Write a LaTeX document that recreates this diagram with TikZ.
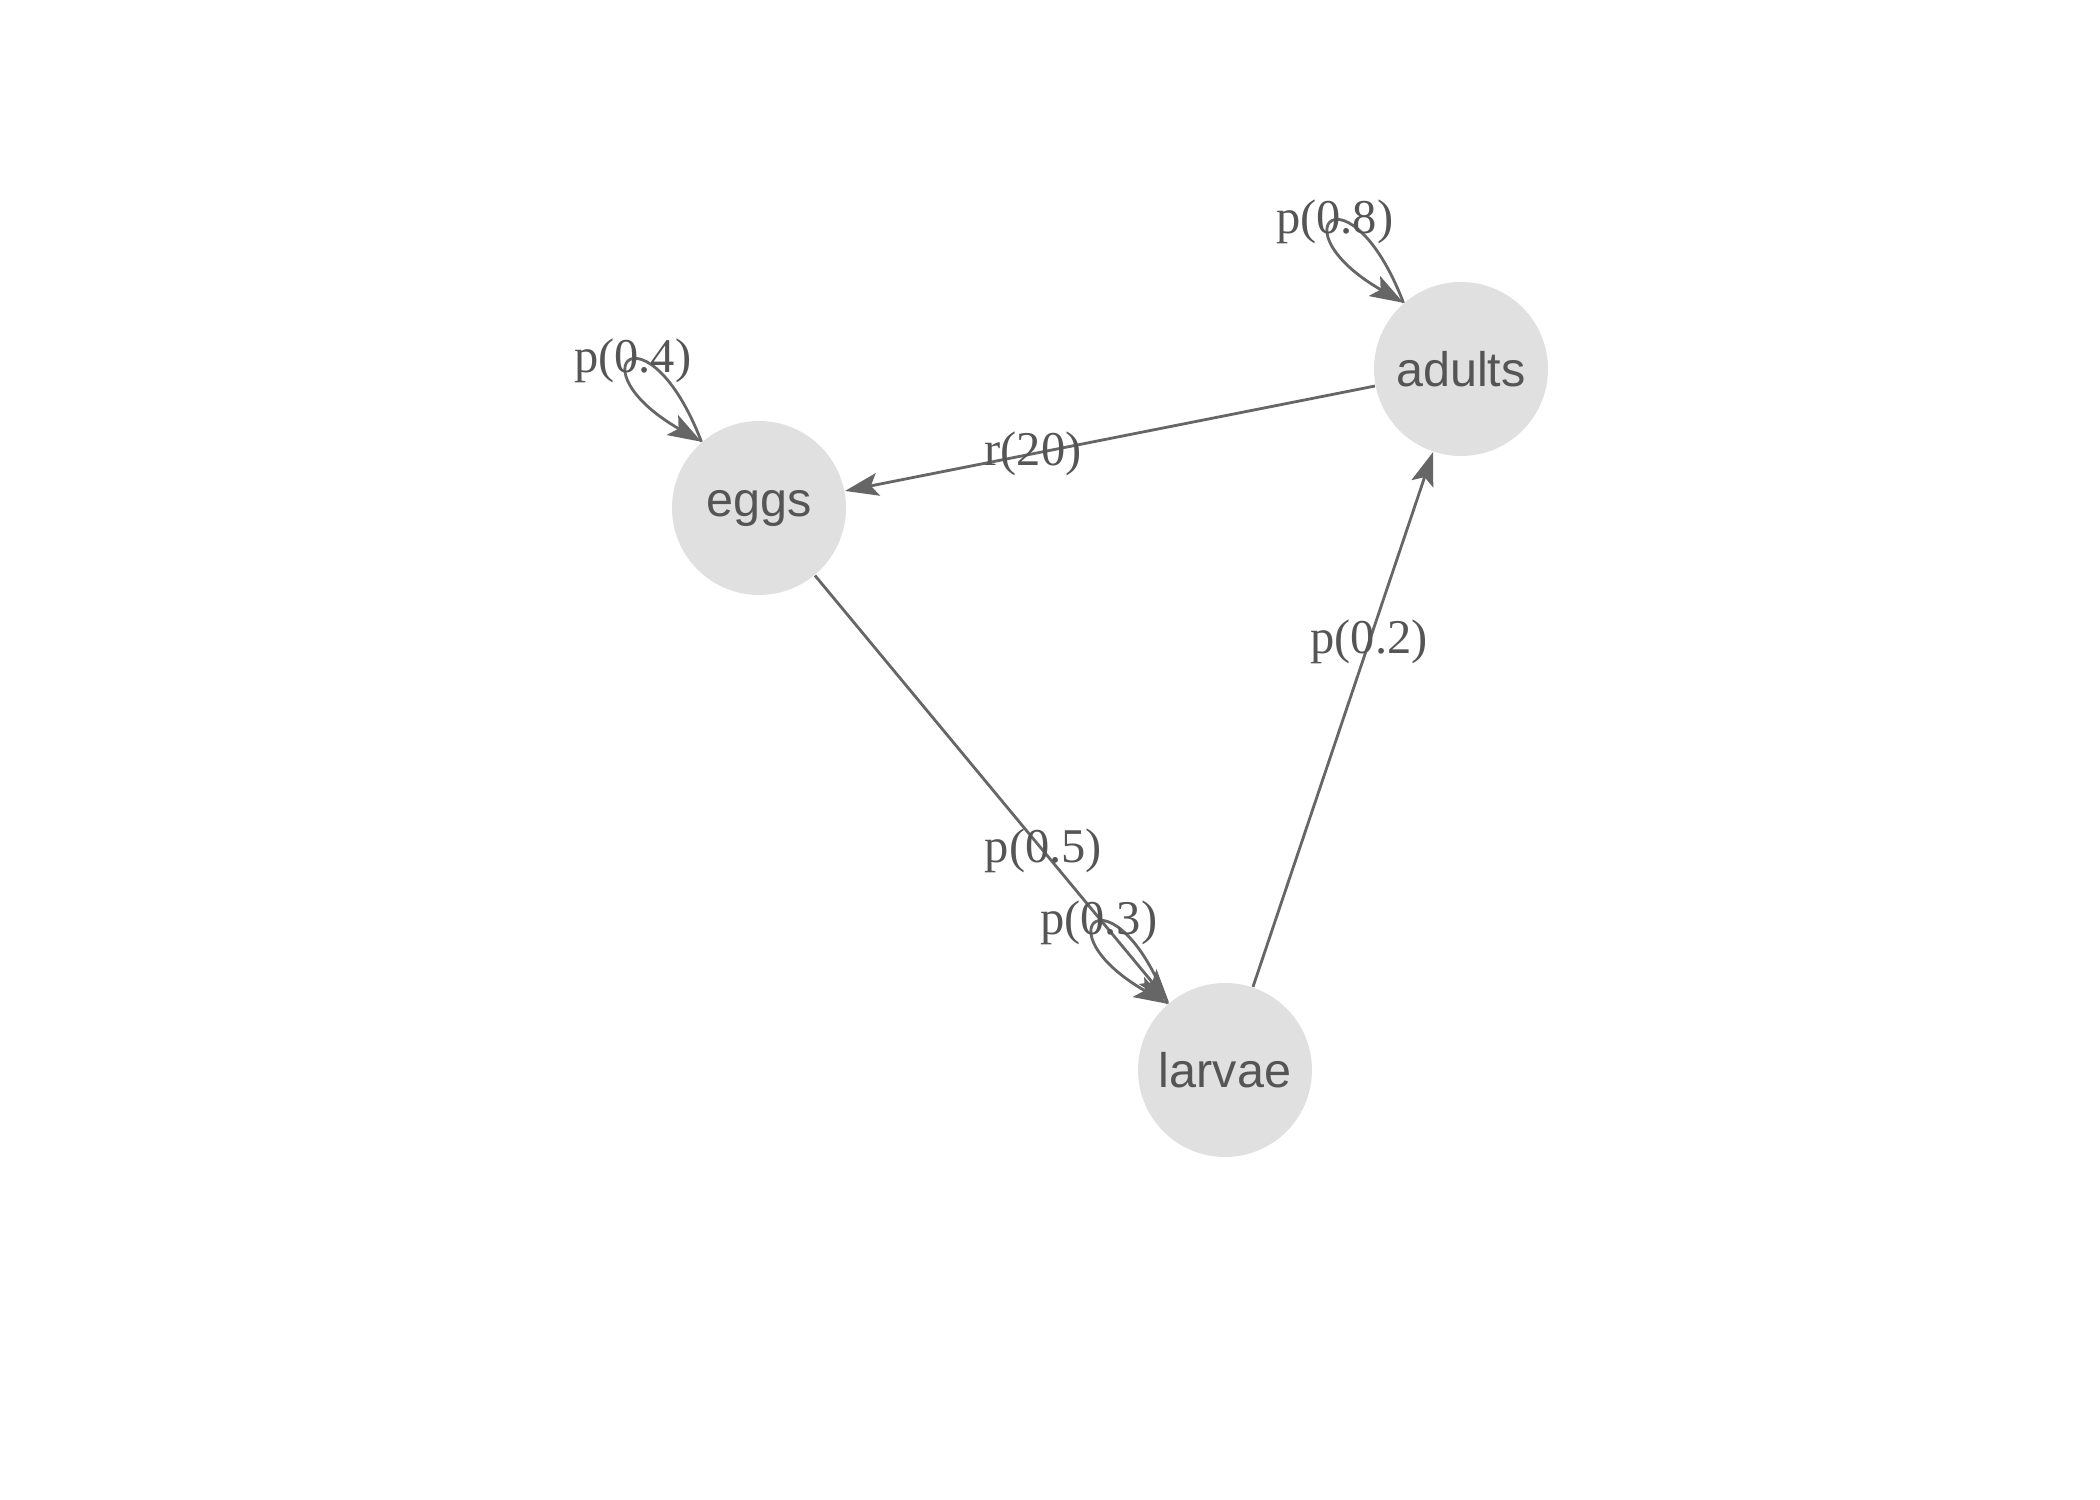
\documentclass[tikz,border=0pt]{standalone}
\usepackage{fontspec}
\setmainfont{Liberation Sans}
\newfontfamily\ratefont{Liberation Serif}
\usetikzlibrary{arrows.meta}
\definecolor{nodegray}{HTML}{E0E0E0}
\definecolor{textgray}{HTML}{555555}
\definecolor{edgegray}{HTML}{666666}
\begin{document}
\begin{tikzpicture}[>={Stealth[length=9.5pt,width=6.5pt,inset=2pt]},
		stage/.style={circle, fill=nodegray, text=textgray, minimum size=1.74cm, inner sep=0pt, font=\fontsize{13.8}{16}\selectfont},
		trans/.style={->, draw=edgegray, line width=0.8pt},
		rate/.style={text=textgray, font=\ratefont\fontsize{13.8}{16}\selectfont}]
		\useasboundingbox (0,0) rectangle (21,15);
		\node (E)[stage] at (7.59,9.92) {eggs};
		\node (A)[stage] at (14.61,11.31) {adults};
		\node (L)[stage] at (12.25,4.30) {larvae};
		\draw[trans](A)--node[rate, pos=0.645]{r(20)}(E);
		\draw[trans](E)--node[rate, pos=0.645]{p(0.5)}(L);
		\draw[trans](L)--node[rate, pos=0.645]{p(0.2)}(A);
		\foreach \x/\p in {E/0.4, A/0.8, L/0.3}
		{
			\draw[trans](\x.131) .. controls +(111:1.5) and +(150:1.5) .. node[rate]{p(\p)} (\x.131);
		}
	\end{tikzpicture}
\end{document}
